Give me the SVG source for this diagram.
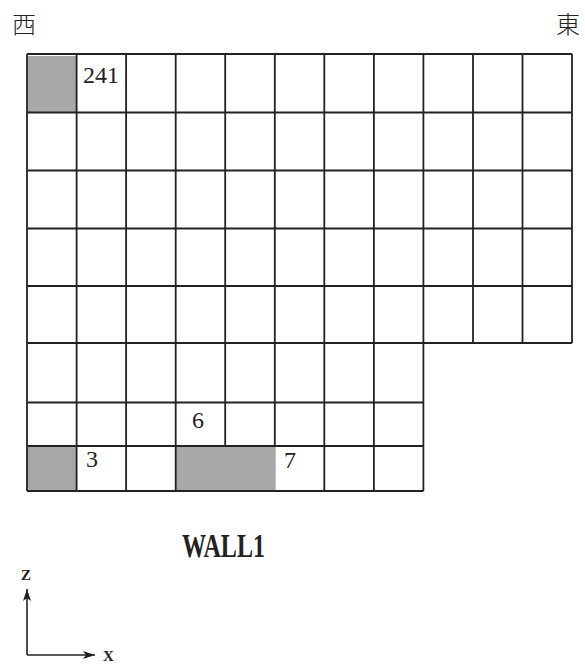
<svg xmlns="http://www.w3.org/2000/svg" width="585" height="666" viewBox="0 0 585 666">
<style>
.g{fill:none;stroke:#222;stroke-width:1.8}
.fill{fill:#a7a8aa;stroke:none}
.num{font-family:"Liberation Serif",serif;font-size:24px;fill:#222}
.cjk{font-family:"Liberation Serif","Noto Sans CJK JP",serif;font-size:24px;font-weight:300;fill:#222}
.ax{fill:none;stroke:#222;stroke-width:1.6}
.axl{font-family:"Liberation Serif",serif;font-size:15px;font-weight:bold;fill:#222}
</style>
<defs>
<marker id="ah" viewBox="0 0 12 8" refX="12" refY="4" markerWidth="12" markerHeight="8" markerUnits="userSpaceOnUse" orient="auto">
<path d="M0,0 L12,4 L0,8 L3,4 Z" fill="#222"/>
</marker>
</defs>
<rect width="585" height="666" fill="#fff"/>
<g id="shaded">
<rect class="fill" x="28" y="56" width="49" height="57"/>
<rect class="fill" x="27" y="446" width="50" height="45"/>
<rect class="fill" x="175.7" y="446" width="100" height="45"/>
</g>
<g id="grid">
<path class="g" d="M27,54H572M27,112.5H572M27,170.5H572M27,228.5H572M27,286H572M27,343H572M27,402.5H423.4M27,446H423.4M27,491H423.4"/>
<path class="g" d="M27,54V491M76.6,54V491M126.1,54V491M175.7,54V491M225.2,54V446M274.8,54V446M324.3,54V491M373.9,54V491M423.4,54V491M473,54V343M522.5,54V343M572,54V343"/>
</g>
<g id="labels">
<text class="num" x="83" y="83">241</text>
<text class="num" x="86" y="467">3</text>
<text class="num" x="192" y="428">6</text>
<text class="num" x="284" y="468">7</text>
</g>
<g id="west"><text class="cjk" x="12" y="33">西</text></g>
<g id="east"><text class="cjk" x="556" y="33">東</text></g>
<g id="title"><text x="182" y="557" font-family="Liberation Serif,serif" font-size="33" font-weight="bold" fill="#222" textLength="83" lengthAdjust="spacingAndGlyphs">WALL1</text></g>
<g id="axes">
<path class="ax" d="M27,655V589" marker-end="url(#ah)"/>
<path class="ax" d="M27,655H95" marker-end="url(#ah)"/>
<text class="axl" x="21" y="580">Z</text>
<text class="axl" x="103" y="661">X</text>
</g>
</svg>
